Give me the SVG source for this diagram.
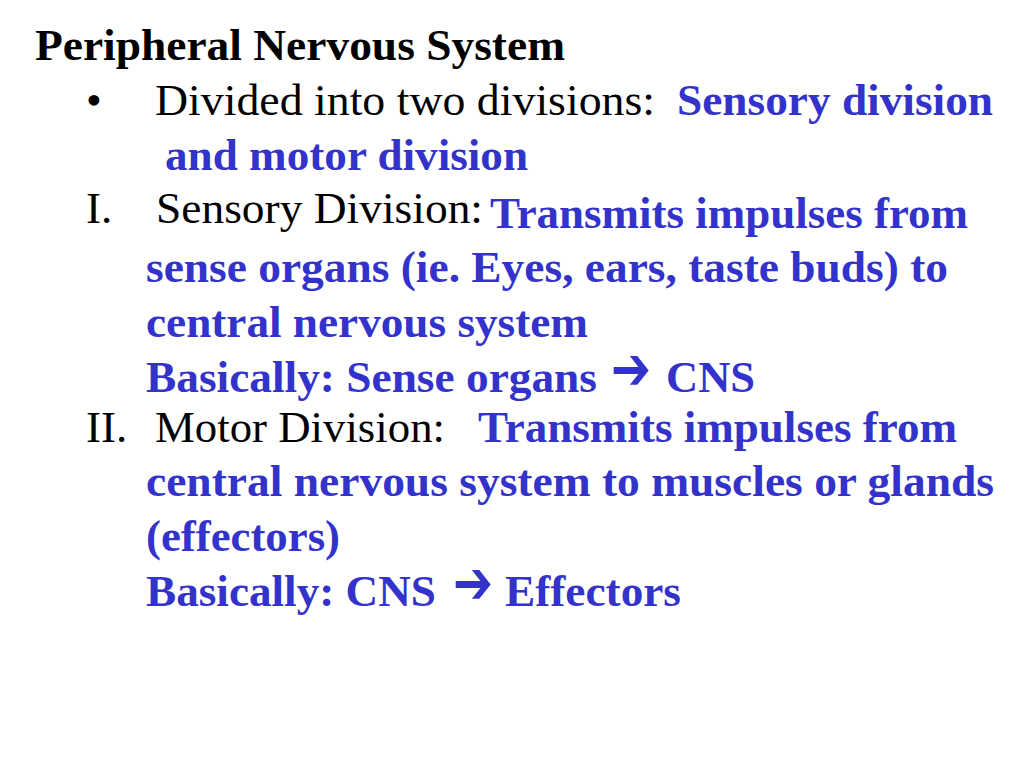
<svg xmlns="http://www.w3.org/2000/svg" width="1024" height="768" viewBox="0 0 1024 768">
<style>
text{font-family:"Liberation Serif","Times New Roman",serif;}
.t{font-size:45px;font-weight:bold;fill:#000;}
.k{font-size:45px;fill:#000;}
.b{font-size:45px;font-weight:bold;fill:#3333CC;}
.ar{font-family:"DejaVu Sans",sans-serif;font-size:60px;font-weight:bold;fill:#3333CC;}
</style>
<rect width="1024" height="768" fill="#fff"/>
<g id="title"><text class="t" x="35" y="60" textLength="530" lengthAdjust="spacingAndGlyphs">Peripheral Nervous System</text></g>
<g id="bullet1">
<text class="k" x="86" y="115">•</text>
<text class="k" x="155" y="115" textLength="500" lengthAdjust="spacingAndGlyphs">Divided into two divisions:</text>
<text class="b" x="677" y="115" textLength="316" lengthAdjust="spacingAndGlyphs">Sensory division</text>
<text class="b" x="165" y="170" textLength="363" lengthAdjust="spacingAndGlyphs">and motor division</text>
</g>
<g id="sensory">
<text class="k" x="86" y="223">I.</text>
<text class="k" x="156" y="223" textLength="327" lengthAdjust="spacingAndGlyphs">Sensory Division:</text>
<text class="b" x="490" y="228" textLength="478" lengthAdjust="spacingAndGlyphs">Transmits impulses from</text>
<text class="b" x="146" y="282" textLength="802" lengthAdjust="spacingAndGlyphs">sense organs (ie. Eyes, ears, taste buds) to</text>
<text class="b" x="146" y="337" textLength="442" lengthAdjust="spacingAndGlyphs">central nervous system</text>
<text class="b" x="146" y="392" textLength="451" lengthAdjust="spacingAndGlyphs">Basically: Sense organs</text>
<text class="ar" x="611" y="389" textLength="40" lengthAdjust="spacingAndGlyphs">➔</text>
<text class="b" x="666" y="392" textLength="89" lengthAdjust="spacingAndGlyphs">CNS</text>
</g>
<g id="motor">
<text class="k" x="86" y="442">II.</text>
<text class="k" x="155" y="442" textLength="290" lengthAdjust="spacingAndGlyphs">Motor Division:</text>
<text class="b" x="478" y="442" textLength="479" lengthAdjust="spacingAndGlyphs">Transmits impulses from</text>
<text class="b" x="146" y="496" textLength="848" lengthAdjust="spacingAndGlyphs">central nervous system to muscles or glands</text>
<text class="b" x="146" y="551" textLength="194" lengthAdjust="spacingAndGlyphs">(effectors)</text>
<text class="b" x="146" y="606" textLength="290" lengthAdjust="spacingAndGlyphs">Basically: CNS</text>
<text class="ar" x="453" y="603" textLength="40" lengthAdjust="spacingAndGlyphs">➔</text>
<text class="b" x="505" y="606" textLength="176" lengthAdjust="spacingAndGlyphs">Effectors</text>
</g>
</svg>
